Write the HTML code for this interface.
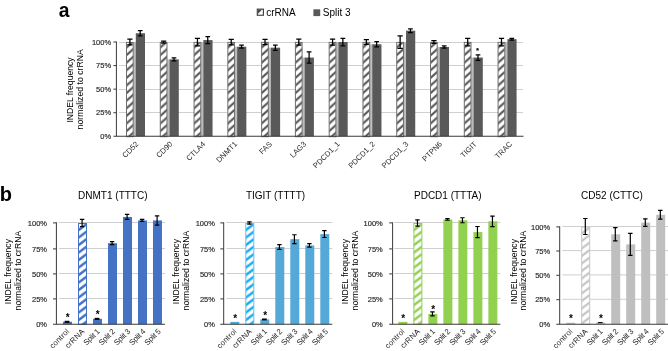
<!DOCTYPE html>
<html><head><meta charset="utf-8"><title>figure</title>
<style>html,body{margin:0;padding:0;background:#fff;overflow:hidden;}svg{display:block;}text{font-family:"Liberation Sans", Arial, sans-serif;}</style>
</head><body>
<svg width="668" height="351" viewBox="0 0 668 351">
<rect width="668" height="351" fill="#fff"/>
<defs>
<pattern id="ha" width="8.6" height="7.6" patternUnits="userSpaceOnUse" patternTransform="translate(0 -3.1)"><rect width="8.6" height="7.6" fill="#fff"/><path d="M-8.6 7.6 L8.6 -7.6 V-4.699999999999999 L-8.6 10.5Z M0 7.6 L8.6 0 V2.9 L0 10.5Z M0 15.2 L17.2 0 V2.9 L0 18.099999999999998Z" fill="#595959"/></pattern>
<pattern id="h1" width="10.0" height="7.5" patternUnits="userSpaceOnUse" patternTransform="translate(0 -1.5)"><rect width="10.0" height="7.5" fill="#fff"/><path d="M-10.0 7.5 L10.0 -7.5 V-4.4 L-10.0 10.6Z M0 7.5 L10.0 0 V3.1 L0 10.6Z M0 15.0 L20.0 0 V3.1 L0 18.1Z" fill="#4472C4"/></pattern>
<pattern id="h2" width="10.0" height="7.5" patternUnits="userSpaceOnUse" patternTransform="translate(0 -1.5)"><rect width="10.0" height="7.5" fill="#fff"/><path d="M-10.0 7.5 L10.0 -7.5 V-4.4 L-10.0 10.6Z M0 7.5 L10.0 0 V3.1 L0 10.6Z M0 15.0 L20.0 0 V3.1 L0 18.1Z" fill="#19AAF0"/></pattern>
<pattern id="h3" width="10.0" height="7.5" patternUnits="userSpaceOnUse" patternTransform="translate(0 -1.5)"><rect width="10.0" height="7.5" fill="#fff"/><path d="M-10.0 7.5 L10.0 -7.5 V-4.4 L-10.0 10.6Z M0 7.5 L10.0 0 V3.1 L0 10.6Z M0 15.0 L20.0 0 V3.1 L0 18.1Z" fill="#92D050"/></pattern>
<pattern id="h4" width="10.0" height="7.5" patternUnits="userSpaceOnUse" patternTransform="translate(0 -1.5)"><rect width="10.0" height="7.5" fill="#fff"/><path d="M-10.0 7.5 L10.0 -7.5 V-4.8 L-10.0 10.2Z M0 7.5 L10.0 0 V2.7 L0 10.2Z M0 15.0 L20.0 0 V2.7 L0 17.7Z" fill="#C4C4C4"/></pattern>
</defs>
<text x="58.7" y="17.1" font-size="19.3" font-weight="bold" fill="#000">a</text>
<rect x="257.3" y="9.15" width="6.1" height="6.1" fill="#fff" stroke="#404040" stroke-width="1.15"/>
<path d="M257.8 14.0L262.2 9.6H257.8Z" fill="#4a4a4a"/>
<path d="M258.2 15.2L263.2 10.2V12.4L260.4 15.2Z" fill="#595959" opacity="0"/>
<text x="266.2" y="16" font-size="10" fill="#000">crRNA</text>
<rect x="313.4" y="9.3" width="6.8" height="6.8" fill="#595959"/>
<text x="322.8" y="16" font-size="10" fill="#000">Split 3</text>
<line x1="119.0" x2="523.0" y1="112.5" y2="112.5" stroke="#cfcfcf" stroke-width="1"/>
<line x1="119.0" x2="523.0" y1="89.5" y2="89.5" stroke="#cfcfcf" stroke-width="1"/>
<line x1="119.0" x2="523.0" y1="65.5" y2="65.5" stroke="#cfcfcf" stroke-width="1"/>
<line x1="119.0" x2="523.0" y1="42.5" y2="42.5" stroke="#cfcfcf" stroke-width="1"/>
<text x="111.1" y="138.90" font-size="7.5" stroke="#262626" stroke-width="0.15" text-anchor="end" fill="#262626">0%</text>
<text x="111.1" y="115.33" font-size="7.5" stroke="#262626" stroke-width="0.15" text-anchor="end" fill="#262626">25%</text>
<text x="111.1" y="91.75" font-size="7.5" stroke="#262626" stroke-width="0.15" text-anchor="end" fill="#262626">50%</text>
<text x="111.1" y="68.17" font-size="7.5" stroke="#262626" stroke-width="0.15" text-anchor="end" fill="#262626">75%</text>
<text x="111.1" y="44.60" font-size="7.5" stroke="#262626" stroke-width="0.15" text-anchor="end" fill="#262626">100%</text>
<text transform="translate(72.9 90.0) rotate(-90)" font-size="8.6" text-anchor="middle" fill="#000">INDEL frequency</text>
<text transform="translate(82.7 89.3) rotate(-90)" font-size="8.7" text-anchor="middle" fill="#000">normalized to crRNA</text>
<rect x="133.40" y="42.00" width="2.6" height="94.30" fill="#bcbcbc"/>
<g transform="translate(126.00 42.00)"><rect x="0.5" y="0.4" width="6.7" height="94.30" fill="url(#ha)" stroke="#6e6e6e" stroke-width="1"/></g>
<rect x="135.80" y="33.23" width="9.2" height="103.07" fill="#595959"/>
<path d="M129.90 39.10V44.90M127.30 39.10H132.50M127.30 44.90H132.50" stroke="#000" stroke-width="1.25" fill="none"/>
<path d="M140.20 30.53V35.93M137.85 30.53H142.55M137.85 35.93H142.55" stroke="#000" stroke-width="1.25" fill="none"/>
<text transform="translate(139.10 144.6) rotate(-45)" font-size="7.6" text-anchor="end" fill="#262626">CD52</text>
<rect x="167.18" y="59.35" width="2.6" height="76.95" fill="#bcbcbc"/>
<g transform="translate(159.78 42.00)"><rect x="0.5" y="0.4" width="6.7" height="94.30" fill="url(#ha)" stroke="#6e6e6e" stroke-width="1"/></g>
<rect x="169.58" y="59.35" width="9.2" height="76.95" fill="#595959"/>
<path d="M163.68 41.00V43.00M161.08 41.00H166.28M161.08 43.00H166.28" stroke="#000" stroke-width="1.25" fill="none"/>
<path d="M173.98 57.85V60.85M171.63 57.85H176.33M171.63 60.85H176.33" stroke="#000" stroke-width="1.25" fill="none"/>
<text transform="translate(172.88 144.6) rotate(-45)" font-size="7.6" text-anchor="end" fill="#262626">CD90</text>
<rect x="200.96" y="42.00" width="2.6" height="94.30" fill="#bcbcbc"/>
<g transform="translate(193.56 42.00)"><rect x="0.5" y="0.4" width="6.7" height="94.30" fill="url(#ha)" stroke="#6e6e6e" stroke-width="1"/></g>
<rect x="203.36" y="40.11" width="9.2" height="96.19" fill="#595959"/>
<path d="M197.46 38.25V45.75M194.86 38.25H200.06M194.86 45.75H200.06" stroke="#000" stroke-width="1.25" fill="none"/>
<path d="M207.76 36.61V43.61M205.41 36.61H210.11M205.41 43.61H210.11" stroke="#000" stroke-width="1.25" fill="none"/>
<text transform="translate(205.86 144.6) rotate(-45)" font-size="7.6" text-anchor="end" fill="#262626">CTLA4</text>
<rect x="234.74" y="46.71" width="2.6" height="89.59" fill="#bcbcbc"/>
<g transform="translate(227.34 42.00)"><rect x="0.5" y="0.4" width="6.7" height="94.30" fill="url(#ha)" stroke="#6e6e6e" stroke-width="1"/></g>
<rect x="237.14" y="46.71" width="9.2" height="89.59" fill="#595959"/>
<path d="M231.24 39.25V44.75M228.64 39.25H233.84M228.64 44.75H233.84" stroke="#000" stroke-width="1.25" fill="none"/>
<path d="M241.54 45.21V48.21M239.19 45.21H243.89M239.19 48.21H243.89" stroke="#000" stroke-width="1.25" fill="none"/>
<text transform="translate(237.74 144.6) rotate(-45)" font-size="7.6" text-anchor="end" fill="#262626">DNMT1</text>
<rect x="268.52" y="47.66" width="2.6" height="88.64" fill="#bcbcbc"/>
<g transform="translate(261.12 42.00)"><rect x="0.5" y="0.4" width="6.7" height="94.30" fill="url(#ha)" stroke="#6e6e6e" stroke-width="1"/></g>
<rect x="270.92" y="47.66" width="9.2" height="88.64" fill="#595959"/>
<path d="M265.02 39.40V44.60M262.42 39.40H267.62M262.42 44.60H267.62" stroke="#000" stroke-width="1.25" fill="none"/>
<path d="M275.32 45.06V50.26M272.97 45.06H277.67M272.97 50.26H277.67" stroke="#000" stroke-width="1.25" fill="none"/>
<text transform="translate(272.52 144.6) rotate(-45)" font-size="7.6" text-anchor="end" fill="#262626">FAS</text>
<rect x="302.30" y="57.56" width="2.6" height="78.74" fill="#bcbcbc"/>
<g transform="translate(294.90 42.00)"><rect x="0.5" y="0.4" width="6.7" height="94.30" fill="url(#ha)" stroke="#6e6e6e" stroke-width="1"/></g>
<rect x="304.70" y="57.56" width="9.2" height="78.74" fill="#595959"/>
<path d="M298.80 39.00V45.00M296.20 39.00H301.40M296.20 45.00H301.40" stroke="#000" stroke-width="1.25" fill="none"/>
<path d="M309.10 51.96V63.16M306.75 51.96H311.45M306.75 63.16H311.45" stroke="#000" stroke-width="1.25" fill="none"/>
<text transform="translate(306.70 144.6) rotate(-45)" font-size="7.6" text-anchor="end" fill="#262626">LAG3</text>
<rect x="336.08" y="42.00" width="2.6" height="94.30" fill="#bcbcbc"/>
<g transform="translate(328.68 42.00)"><rect x="0.5" y="0.4" width="6.7" height="94.30" fill="url(#ha)" stroke="#6e6e6e" stroke-width="1"/></g>
<rect x="338.48" y="42.00" width="9.2" height="94.30" fill="#595959"/>
<path d="M332.58 39.00V45.00M329.98 39.00H335.18M329.98 45.00H335.18" stroke="#000" stroke-width="1.25" fill="none"/>
<path d="M342.88 38.25V45.75M340.53 38.25H345.23M340.53 45.75H345.23" stroke="#000" stroke-width="1.25" fill="none"/>
<text transform="translate(340.28 144.6) rotate(-45)" font-size="7.6" text-anchor="end" fill="#262626">PDCD1_1</text>
<rect x="369.86" y="44.26" width="2.6" height="92.04" fill="#bcbcbc"/>
<g transform="translate(362.46 42.00)"><rect x="0.5" y="0.4" width="6.7" height="94.30" fill="url(#ha)" stroke="#6e6e6e" stroke-width="1"/></g>
<rect x="372.26" y="44.26" width="9.2" height="92.04" fill="#595959"/>
<path d="M366.36 39.60V44.40M363.76 39.60H368.96M363.76 44.40H368.96" stroke="#000" stroke-width="1.25" fill="none"/>
<path d="M376.66 41.66V46.86M374.31 41.66H379.01M374.31 46.86H379.01" stroke="#000" stroke-width="1.25" fill="none"/>
<text transform="translate(375.56 144.6) rotate(-45)" font-size="7.6" text-anchor="end" fill="#262626">PDCD1_2</text>
<rect x="403.64" y="42.00" width="2.6" height="94.30" fill="#bcbcbc"/>
<g transform="translate(396.24 42.00)"><rect x="0.5" y="0.4" width="6.7" height="94.30" fill="url(#ha)" stroke="#6e6e6e" stroke-width="1"/></g>
<rect x="406.04" y="30.68" width="9.2" height="105.62" fill="#595959"/>
<path d="M400.14 35.75V48.25M397.54 35.75H402.74M397.54 48.25H402.74" stroke="#000" stroke-width="1.25" fill="none"/>
<path d="M410.44 28.78V32.58M408.09 28.78H412.79M408.09 32.58H412.79" stroke="#000" stroke-width="1.25" fill="none"/>
<text transform="translate(409.04 144.6) rotate(-45)" font-size="7.6" text-anchor="end" fill="#262626">PDCD1_3</text>
<rect x="437.42" y="47.00" width="2.6" height="89.30" fill="#bcbcbc"/>
<g transform="translate(430.02 42.00)"><rect x="0.5" y="0.4" width="6.7" height="94.30" fill="url(#ha)" stroke="#6e6e6e" stroke-width="1"/></g>
<rect x="439.82" y="47.00" width="9.2" height="89.30" fill="#595959"/>
<path d="M433.92 40.60V43.40M431.32 40.60H436.52M431.32 43.40H436.52" stroke="#000" stroke-width="1.25" fill="none"/>
<path d="M444.22 45.80V48.20M441.87 45.80H446.57M441.87 48.20H446.57" stroke="#000" stroke-width="1.25" fill="none"/>
<text transform="translate(442.52 144.6) rotate(-45)" font-size="7.6" text-anchor="end" fill="#262626">PTPN6</text>
<rect x="471.20" y="57.56" width="2.6" height="78.74" fill="#bcbcbc"/>
<g transform="translate(463.80 42.00)"><rect x="0.5" y="0.4" width="6.7" height="94.30" fill="url(#ha)" stroke="#6e6e6e" stroke-width="1"/></g>
<rect x="473.60" y="57.56" width="9.2" height="78.74" fill="#595959"/>
<path d="M467.70 38.25V45.75M465.10 38.25H470.30M465.10 45.75H470.30" stroke="#000" stroke-width="1.25" fill="none"/>
<path d="M478.00 54.81V60.31M475.65 54.81H480.35M475.65 60.31H480.35" stroke="#000" stroke-width="1.25" fill="none"/>
<text transform="translate(477.30 144.6) rotate(-45)" font-size="7.6" text-anchor="end" fill="#262626">TIGIT</text>
<rect x="504.98" y="42.00" width="2.6" height="94.30" fill="#bcbcbc"/>
<g transform="translate(497.58 42.00)"><rect x="0.5" y="0.4" width="6.7" height="94.30" fill="url(#ha)" stroke="#6e6e6e" stroke-width="1"/></g>
<rect x="507.38" y="39.17" width="9.2" height="97.13" fill="#595959"/>
<path d="M501.48 38.25V45.75M498.88 38.25H504.08M498.88 45.75H504.08" stroke="#000" stroke-width="1.25" fill="none"/>
<path d="M511.78 38.27V40.07M509.43 38.27H514.13M509.43 40.07H514.13" stroke="#000" stroke-width="1.25" fill="none"/>
<text transform="translate(512.68 144.6) rotate(-45)" font-size="7.6" text-anchor="end" fill="#262626">TRAC</text>
<text x="477.60" y="53.40" font-size="8" text-anchor="middle" fill="#000" stroke="#000" stroke-width="0.25">*</text>
<path d="M116.4 41.5V136.3" stroke="#3a3a3a" stroke-width="1" fill="none"/>
<path d="M113.4 136.3H523.5" stroke="#3a3a3a" stroke-width="1.1" fill="none"/>
<line x1="113.4" x2="116.4" y1="112.73" y2="112.73" stroke="#3a3a3a" stroke-width="1"/>
<line x1="113.4" x2="116.4" y1="89.15" y2="89.15" stroke="#3a3a3a" stroke-width="1"/>
<line x1="113.4" x2="116.4" y1="65.58" y2="65.58" stroke="#3a3a3a" stroke-width="1"/>
<line x1="113.4" x2="116.4" y1="42.00" y2="42.00" stroke="#3a3a3a" stroke-width="1"/>
<text x="-0.3" y="201" font-size="20" font-weight="bold" fill="#000">b</text>
<text x="112.8" y="198.9" font-size="10" text-anchor="middle" fill="#000">DNMT1 (TTTC)</text>
<line x1="59.00" x2="165.00" y1="298.5" y2="298.5" stroke="#cfcfcf" stroke-width="1"/>
<line x1="59.00" x2="165.00" y1="273.5" y2="273.5" stroke="#cfcfcf" stroke-width="1"/>
<line x1="59.00" x2="165.00" y1="248.5" y2="248.5" stroke="#cfcfcf" stroke-width="1"/>
<line x1="59.00" x2="165.00" y1="222.5" y2="222.5" stroke="#cfcfcf" stroke-width="1"/>
<text x="47.00" y="327.30" font-size="7.5" text-anchor="end" fill="#262626" stroke="#262626" stroke-width="0.15">0%</text>
<text x="47.00" y="301.50" font-size="7.5" text-anchor="end" fill="#262626" stroke="#262626" stroke-width="0.15">25%</text>
<text x="47.00" y="276.50" font-size="7.5" text-anchor="end" fill="#262626" stroke="#262626" stroke-width="0.15">50%</text>
<text x="47.00" y="251.50" font-size="7.5" text-anchor="end" fill="#262626" stroke="#262626" stroke-width="0.15">75%</text>
<text x="47.00" y="225.50" font-size="7.5" text-anchor="end" fill="#262626" stroke="#262626" stroke-width="0.15">100%</text>
<text transform="translate(10.90 271.6) rotate(-90)" font-size="8.6" text-anchor="middle" fill="#000">INDEL frequency</text>
<text transform="translate(21.30 270.6) rotate(-90)" font-size="8.65" text-anchor="middle" fill="#000">normalized to crRNA</text>
<rect x="63.00" y="321.78" width="9.0" height="2.52" fill="#4472C4"/>
<rect x="64.65" y="320.78" width="4.8" height="2.00" fill="#000"/>
<text x="67.80" y="321.20" font-size="10" text-anchor="middle" fill="#000" font-weight="bold">*</text>
<text transform="translate(52.73 348.97) rotate(-45)" font-size="7.8" textLength="24.0" lengthAdjust="spacing" fill="#262626">control</text>
<g transform="translate(78.00 223.00)"><rect x="0.5" y="0.5" width="8.0" height="100.80" fill="url(#h1)" stroke="#4472C4" stroke-width="1"/></g>
<path d="M82.10 219.40V226.60M79.90 219.40H84.30M79.90 226.60H84.30" stroke="#000" stroke-width="1.2" fill="none"/>
<text transform="translate(68.14 348.83) rotate(-45)" font-size="7.8" textLength="23.8" lengthAdjust="spacing" fill="#262626">crRNA</text>
<rect x="93.00" y="318.85" width="9.0" height="5.45" fill="#4472C4"/>
<rect x="94.65" y="317.85" width="4.8" height="2.00" fill="#000"/>
<text x="97.80" y="318.30" font-size="10" text-anchor="middle" fill="#000" font-weight="bold">*</text>
<text transform="translate(86.52 345.72) rotate(-45)" font-size="7.8" textLength="19.4" lengthAdjust="spacing" fill="#262626">Split 1</text>
<rect x="108.00" y="243.20" width="9.0" height="81.10" fill="#4472C4"/>
<path d="M112.10 241.70V244.70M109.90 241.70H114.30M109.90 244.70H114.30" stroke="#000" stroke-width="1.2" fill="none"/>
<text transform="translate(101.79 345.72) rotate(-45)" font-size="7.8" textLength="19.4" lengthAdjust="spacing" fill="#262626">Split 2</text>
<rect x="123.00" y="216.94" width="9.0" height="107.36" fill="#4472C4"/>
<path d="M127.10 214.44V219.44M124.90 214.44H129.30M124.90 219.44H129.30" stroke="#000" stroke-width="1.2" fill="none"/>
<text transform="translate(117.06 345.72) rotate(-45)" font-size="7.8" textLength="19.4" lengthAdjust="spacing" fill="#262626">Split 3</text>
<rect x="138.00" y="220.47" width="9.0" height="103.83" fill="#4472C4"/>
<path d="M142.10 219.47V221.47M139.90 219.47H144.30M139.90 221.47H144.30" stroke="#000" stroke-width="1.2" fill="none"/>
<text transform="translate(132.33 345.72) rotate(-45)" font-size="7.8" textLength="19.4" lengthAdjust="spacing" fill="#262626">Split 4</text>
<rect x="153.00" y="220.47" width="9.0" height="103.83" fill="#4472C4"/>
<path d="M157.10 215.88V225.07M154.90 215.88H159.30M154.90 225.07H159.30" stroke="#000" stroke-width="1.2" fill="none"/>
<text transform="translate(147.60 345.72) rotate(-45)" font-size="7.8" textLength="19.4" lengthAdjust="spacing" fill="#262626">Split 5</text>
<path d="M56.4 222.3V324.3" stroke="#3a3a3a" stroke-width="1" fill="none"/>
<path d="M53.00 324.3H165.0" stroke="#3a3a3a" stroke-width="1.1" fill="none"/>
<line x1="53.00" x2="56.4" y1="298.90" y2="298.90" stroke="#3a3a3a" stroke-width="1"/>
<line x1="53.00" x2="56.4" y1="273.90" y2="273.90" stroke="#3a3a3a" stroke-width="1"/>
<line x1="53.00" x2="56.4" y1="248.90" y2="248.90" stroke="#3a3a3a" stroke-width="1"/>
<line x1="53.00" x2="56.4" y1="222.90" y2="222.90" stroke="#3a3a3a" stroke-width="1"/>
<text x="275.5" y="198.9" font-size="10" text-anchor="middle" fill="#000">TIGIT (TTTT)</text>
<line x1="226.30" x2="332.30" y1="298.5" y2="298.5" stroke="#cfcfcf" stroke-width="1"/>
<line x1="226.30" x2="332.30" y1="273.5" y2="273.5" stroke="#cfcfcf" stroke-width="1"/>
<line x1="226.30" x2="332.30" y1="248.5" y2="248.5" stroke="#cfcfcf" stroke-width="1"/>
<line x1="226.30" x2="332.30" y1="222.5" y2="222.5" stroke="#cfcfcf" stroke-width="1"/>
<text x="214.90" y="327.30" font-size="7.5" text-anchor="end" fill="#262626" stroke="#262626" stroke-width="0.15">0%</text>
<text x="214.90" y="301.50" font-size="7.5" text-anchor="end" fill="#262626" stroke="#262626" stroke-width="0.15">25%</text>
<text x="214.90" y="276.50" font-size="7.5" text-anchor="end" fill="#262626" stroke="#262626" stroke-width="0.15">50%</text>
<text x="214.90" y="251.50" font-size="7.5" text-anchor="end" fill="#262626" stroke="#262626" stroke-width="0.15">75%</text>
<text x="214.90" y="225.50" font-size="7.5" text-anchor="end" fill="#262626" stroke="#262626" stroke-width="0.15">100%</text>
<text transform="translate(179.30 271.6) rotate(-90)" font-size="8.6" text-anchor="middle" fill="#000">INDEL frequency</text>
<text transform="translate(189.20 270.6) rotate(-90)" font-size="8.65" text-anchor="middle" fill="#000">normalized to crRNA</text>
<rect x="230.30" y="321.88" width="9.0" height="2.42" fill="#55A9D9"/>
<text x="235.10" y="321.80" font-size="10" text-anchor="middle" fill="#000" font-weight="bold">*</text>
<text transform="translate(220.03 348.97) rotate(-45)" font-size="7.8" textLength="24.0" lengthAdjust="spacing" fill="#262626">control</text>
<g transform="translate(245.30 223.00)"><rect x="0.5" y="0.5" width="8.0" height="100.80" fill="url(#h2)" stroke="#5cc4f4" stroke-width="1"/></g>
<path d="M249.40 221.80V224.20M247.20 221.80H251.60M247.20 224.20H251.60" stroke="#000" stroke-width="1.2" fill="none"/>
<text transform="translate(235.44 348.83) rotate(-45)" font-size="7.8" textLength="23.8" lengthAdjust="spacing" fill="#262626">crRNA</text>
<rect x="260.30" y="319.45" width="9.0" height="4.85" fill="#55A9D9"/>
<rect x="261.95" y="318.50" width="4.8" height="1.90" fill="#000"/>
<text x="265.10" y="318.70" font-size="10" text-anchor="middle" fill="#000" font-weight="bold">*</text>
<text transform="translate(253.82 345.72) rotate(-45)" font-size="7.8" textLength="19.4" lengthAdjust="spacing" fill="#262626">Split 1</text>
<rect x="275.30" y="247.04" width="9.0" height="77.26" fill="#55A9D9"/>
<path d="M279.40 244.69V249.39M277.20 244.69H281.60M277.20 249.39H281.60" stroke="#000" stroke-width="1.2" fill="none"/>
<text transform="translate(269.09 345.72) rotate(-45)" font-size="7.8" textLength="19.4" lengthAdjust="spacing" fill="#262626">Split 2</text>
<rect x="290.30" y="239.16" width="9.0" height="85.14" fill="#55A9D9"/>
<path d="M294.40 234.76V243.56M292.20 234.76H296.60M292.20 243.56H296.60" stroke="#000" stroke-width="1.2" fill="none"/>
<text transform="translate(284.36 345.72) rotate(-45)" font-size="7.8" textLength="19.4" lengthAdjust="spacing" fill="#262626">Split 3</text>
<rect x="305.30" y="245.42" width="9.0" height="78.88" fill="#55A9D9"/>
<path d="M309.40 243.72V247.12M307.20 243.72H311.60M307.20 247.12H311.60" stroke="#000" stroke-width="1.2" fill="none"/>
<text transform="translate(299.63 345.72) rotate(-45)" font-size="7.8" textLength="19.4" lengthAdjust="spacing" fill="#262626">Split 4</text>
<rect x="320.30" y="234.11" width="9.0" height="90.19" fill="#55A9D9"/>
<path d="M324.40 230.71V237.51M322.20 230.71H326.60M322.20 237.51H326.60" stroke="#000" stroke-width="1.2" fill="none"/>
<text transform="translate(314.90 345.72) rotate(-45)" font-size="7.8" textLength="19.4" lengthAdjust="spacing" fill="#262626">Split 5</text>
<path d="M223.7 222.3V324.3" stroke="#3a3a3a" stroke-width="1" fill="none"/>
<path d="M220.30 324.3H332.3" stroke="#3a3a3a" stroke-width="1.1" fill="none"/>
<line x1="220.30" x2="223.7" y1="298.90" y2="298.90" stroke="#3a3a3a" stroke-width="1"/>
<line x1="220.30" x2="223.7" y1="273.90" y2="273.90" stroke="#3a3a3a" stroke-width="1"/>
<line x1="220.30" x2="223.7" y1="248.90" y2="248.90" stroke="#3a3a3a" stroke-width="1"/>
<line x1="220.30" x2="223.7" y1="222.90" y2="222.90" stroke="#3a3a3a" stroke-width="1"/>
<text x="447.8" y="198.9" font-size="10" text-anchor="middle" fill="#000">PDCD1 (TTTA)</text>
<line x1="394.35" x2="500.35" y1="298.5" y2="298.5" stroke="#cfcfcf" stroke-width="1"/>
<line x1="394.35" x2="500.35" y1="273.5" y2="273.5" stroke="#cfcfcf" stroke-width="1"/>
<line x1="394.35" x2="500.35" y1="248.5" y2="248.5" stroke="#cfcfcf" stroke-width="1"/>
<line x1="394.35" x2="500.35" y1="222.5" y2="222.5" stroke="#cfcfcf" stroke-width="1"/>
<text x="382.80" y="327.30" font-size="7.5" text-anchor="end" fill="#262626" stroke="#262626" stroke-width="0.15">0%</text>
<text x="382.80" y="301.50" font-size="7.5" text-anchor="end" fill="#262626" stroke="#262626" stroke-width="0.15">25%</text>
<text x="382.80" y="276.50" font-size="7.5" text-anchor="end" fill="#262626" stroke="#262626" stroke-width="0.15">50%</text>
<text x="382.80" y="251.50" font-size="7.5" text-anchor="end" fill="#262626" stroke="#262626" stroke-width="0.15">75%</text>
<text x="382.80" y="225.50" font-size="7.5" text-anchor="end" fill="#262626" stroke="#262626" stroke-width="0.15">100%</text>
<text transform="translate(348.25 271.6) rotate(-90)" font-size="8.6" text-anchor="middle" fill="#000">INDEL frequency</text>
<text transform="translate(357.55 270.6) rotate(-90)" font-size="8.65" text-anchor="middle" fill="#000">normalized to crRNA</text>
<rect x="398.35" y="321.88" width="9.0" height="2.42" fill="#92D050"/>
<text x="403.15" y="322.00" font-size="10" text-anchor="middle" fill="#000" font-weight="bold">*</text>
<text transform="translate(388.08 348.97) rotate(-45)" font-size="7.8" textLength="24.0" lengthAdjust="spacing" fill="#262626">control</text>
<g transform="translate(413.35 223.00)"><rect x="0.5" y="0.5" width="8.0" height="100.80" fill="url(#h3)" stroke="#92D050" stroke-width="1"/></g>
<path d="M417.45 219.80V226.20M415.25 219.80H419.65M415.25 226.20H419.65" stroke="#000" stroke-width="1.2" fill="none"/>
<text transform="translate(403.49 348.83) rotate(-45)" font-size="7.8" textLength="23.8" lengthAdjust="spacing" fill="#262626">crRNA</text>
<rect x="428.35" y="313.90" width="9.0" height="10.40" fill="#92D050"/>
<path d="M432.45 311.90V315.90M430.25 311.90H434.65M430.25 315.90H434.65" stroke="#000" stroke-width="1.2" fill="none"/>
<text x="433.15" y="313.30" font-size="10" text-anchor="middle" fill="#000" font-weight="bold">*</text>
<text transform="translate(421.87 345.72) rotate(-45)" font-size="7.8" textLength="19.4" lengthAdjust="spacing" fill="#262626">Split 1</text>
<rect x="443.35" y="219.47" width="9.0" height="104.84" fill="#92D050"/>
<path d="M447.45 218.66V220.27M445.25 218.66H449.65M445.25 220.27H449.65" stroke="#000" stroke-width="1.2" fill="none"/>
<text transform="translate(437.14 345.72) rotate(-45)" font-size="7.8" textLength="19.4" lengthAdjust="spacing" fill="#262626">Split 2</text>
<rect x="458.35" y="220.27" width="9.0" height="104.03" fill="#92D050"/>
<path d="M462.45 217.77V222.77M460.25 217.77H464.65M460.25 222.77H464.65" stroke="#000" stroke-width="1.2" fill="none"/>
<text transform="translate(452.41 345.72) rotate(-45)" font-size="7.8" textLength="19.4" lengthAdjust="spacing" fill="#262626">Split 3</text>
<rect x="473.35" y="232.09" width="9.0" height="92.21" fill="#92D050"/>
<path d="M477.45 226.49V237.69M475.25 226.49H479.65M475.25 237.69H479.65" stroke="#000" stroke-width="1.2" fill="none"/>
<text transform="translate(467.68 345.72) rotate(-45)" font-size="7.8" textLength="19.4" lengthAdjust="spacing" fill="#262626">Split 4</text>
<rect x="488.35" y="221.28" width="9.0" height="103.02" fill="#92D050"/>
<path d="M492.45 216.03V226.53M490.25 216.03H494.65M490.25 226.53H494.65" stroke="#000" stroke-width="1.2" fill="none"/>
<text transform="translate(482.95 345.72) rotate(-45)" font-size="7.8" textLength="19.4" lengthAdjust="spacing" fill="#262626">Split 5</text>
<path d="M392.6 222.3V324.3" stroke="#3a3a3a" stroke-width="1" fill="none"/>
<path d="M389.20 324.3H500.35" stroke="#3a3a3a" stroke-width="1.1" fill="none"/>
<line x1="389.20" x2="392.6" y1="298.90" y2="298.90" stroke="#3a3a3a" stroke-width="1"/>
<line x1="389.20" x2="392.6" y1="273.90" y2="273.90" stroke="#3a3a3a" stroke-width="1"/>
<line x1="389.20" x2="392.6" y1="248.90" y2="248.90" stroke="#3a3a3a" stroke-width="1"/>
<line x1="389.20" x2="392.6" y1="222.90" y2="222.90" stroke="#3a3a3a" stroke-width="1"/>
<text x="611.9" y="198.9" font-size="10" text-anchor="middle" fill="#000">CD52 (CTTC)</text>
<line x1="562.20" x2="668.00" y1="299.3" y2="299.3" stroke="#cfcfcf" stroke-width="1"/>
<line x1="562.20" x2="668.00" y1="274.9" y2="274.9" stroke="#cfcfcf" stroke-width="1"/>
<line x1="562.20" x2="668.00" y1="250.6" y2="250.6" stroke="#cfcfcf" stroke-width="1"/>
<line x1="562.20" x2="668.00" y1="226.5" y2="226.5" stroke="#cfcfcf" stroke-width="1"/>
<text x="550.20" y="327.30" font-size="7.5" text-anchor="end" fill="#262626" stroke="#262626" stroke-width="0.15">0%</text>
<text x="550.20" y="302.30" font-size="7.5" text-anchor="end" fill="#262626" stroke="#262626" stroke-width="0.15">25%</text>
<text x="550.20" y="277.90" font-size="7.5" text-anchor="end" fill="#262626" stroke="#262626" stroke-width="0.15">50%</text>
<text x="550.20" y="253.60" font-size="7.5" text-anchor="end" fill="#262626" stroke="#262626" stroke-width="0.15">75%</text>
<text x="550.20" y="229.50" font-size="7.5" text-anchor="end" fill="#262626" stroke="#262626" stroke-width="0.15">100%</text>
<text transform="translate(516.60 271.6) rotate(-90)" font-size="8.6" text-anchor="middle" fill="#000">INDEL frequency</text>
<text transform="translate(525.60 270.6) rotate(-90)" font-size="8.65" text-anchor="middle" fill="#000">normalized to crRNA</text>
<rect x="566.20" y="322.73" width="9.0" height="1.57" fill="#BFBFBF"/>
<text x="571.00" y="322.00" font-size="10" text-anchor="middle" fill="#000" font-weight="bold">*</text>
<text transform="translate(555.93 348.97) rotate(-45)" font-size="7.8" textLength="24.0" lengthAdjust="spacing" fill="#262626">control</text>
<g transform="translate(581.20 226.50)"><rect x="0.5" y="0.5" width="8.0" height="97.30" fill="url(#h4)" stroke="#c6c6c6" stroke-width="1"/></g>
<path d="M585.30 218.50V234.50M583.10 218.50H587.50M583.10 234.50H587.50" stroke="#000" stroke-width="1.2" fill="none"/>
<text transform="translate(571.34 348.83) rotate(-45)" font-size="7.8" textLength="23.8" lengthAdjust="spacing" fill="#262626">crRNA</text>
<rect x="596.20" y="322.63" width="9.0" height="1.67" fill="#BFBFBF"/>
<rect x="597.85" y="322.08" width="4.8" height="1.10" fill="#000"/>
<text x="601.00" y="322.00" font-size="10" text-anchor="middle" fill="#000" font-weight="bold">*</text>
<text transform="translate(589.72 345.72) rotate(-45)" font-size="7.8" textLength="19.4" lengthAdjust="spacing" fill="#262626">Split 1</text>
<rect x="611.20" y="234.29" width="9.0" height="90.01" fill="#BFBFBF"/>
<path d="M615.30 227.69V240.89M613.10 227.69H617.50M613.10 240.89H617.50" stroke="#000" stroke-width="1.2" fill="none"/>
<text transform="translate(604.99 345.72) rotate(-45)" font-size="7.8" textLength="19.4" lengthAdjust="spacing" fill="#262626">Split 2</text>
<rect x="626.20" y="244.42" width="9.0" height="79.88" fill="#BFBFBF"/>
<path d="M630.30 233.42V255.42M628.10 233.42H632.50M628.10 255.42H632.50" stroke="#000" stroke-width="1.2" fill="none"/>
<text transform="translate(620.26 345.72) rotate(-45)" font-size="7.8" textLength="19.4" lengthAdjust="spacing" fill="#262626">Split 3</text>
<rect x="641.20" y="222.60" width="9.0" height="101.70" fill="#BFBFBF"/>
<path d="M645.30 218.85V226.35M643.10 218.85H647.50M643.10 226.35H647.50" stroke="#000" stroke-width="1.2" fill="none"/>
<text transform="translate(635.53 345.72) rotate(-45)" font-size="7.8" textLength="19.4" lengthAdjust="spacing" fill="#262626">Split 4</text>
<rect x="656.20" y="214.81" width="9.0" height="109.49" fill="#BFBFBF"/>
<path d="M660.30 210.41V219.21M658.10 210.41H662.50M658.10 219.21H662.50" stroke="#000" stroke-width="1.2" fill="none"/>
<text transform="translate(650.80 345.72) rotate(-45)" font-size="7.8" textLength="19.4" lengthAdjust="spacing" fill="#262626">Split 5</text>
<path d="M559.7 226.3V324.3" stroke="#3a3a3a" stroke-width="1" fill="none"/>
<path d="M556.30 324.3H668" stroke="#3a3a3a" stroke-width="1.1" fill="none"/>
<line x1="556.30" x2="559.7" y1="299.70" y2="299.70" stroke="#3a3a3a" stroke-width="1"/>
<line x1="556.30" x2="559.7" y1="275.30" y2="275.30" stroke="#3a3a3a" stroke-width="1"/>
<line x1="556.30" x2="559.7" y1="251.00" y2="251.00" stroke="#3a3a3a" stroke-width="1"/>
<line x1="556.30" x2="559.7" y1="226.90" y2="226.90" stroke="#3a3a3a" stroke-width="1"/>
</svg>
</body></html>
